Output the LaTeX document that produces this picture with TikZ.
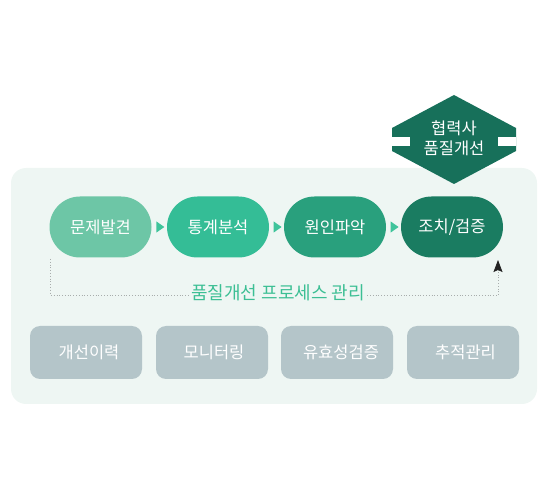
\documentclass[tikz,border=0pt]{standalone}
\usepackage{fontspec}
\setmainfont{Noto Sans CJK KR}
\usetikzlibrary{shapes.misc,shapes.geometric,arrows.meta}
\definecolor{panelbg}{HTML}{EEF6F3}
\definecolor{pillA}{HTML}{6DC6A6}
\definecolor{pillB}{HTML}{34BD96}
\definecolor{pillC}{HTML}{29A07D}
\definecolor{pillD}{HTML}{1A7C61}
\definecolor{diam}{HTML}{17705A}
\definecolor{tricol}{HTML}{3FC49B}
\definecolor{boxcol}{HTML}{B4C5C9}
\definecolor{titlecol}{HTML}{3CBF94}
\definecolor{dotcol}{HTML}{A8ADAC}
\definecolor{arrcol}{HTML}{222222}
\tikzset{
  pill/.style={rounded rectangle, minimum width=102pt, minimum height=61pt, inner sep=0pt,
    text=white, font=\fontsize{16.5}{19}\selectfont},
  infobox/.style={rectangle, rounded corners=10pt, fill=boxcol, minimum width=112pt,
    minimum height=53pt, inner sep=0pt, text=white, font=\fontsize{16.5}{19}\selectfont},
  steptri/.style={isosceles triangle, isosceles triangle apex angle=70, fill=tricol,
    minimum height=8pt, minimum width=11pt, inner sep=0pt},
  loopline/.style={dotcol, line width=0.8pt, dotted},
}
\begin{document}
\begin{tikzpicture}[x=1pt,y=-1pt]
\useasboundingbox (0,0) rectangle (550,500);
% panel
\fill[panelbg, rounded corners=15pt] (11,168) rectangle (537,404);
% diamond badge
\fill[diam] (454,95) -- (516,128) -- (516,151) -- (454,184) -- (392,151) -- (392,128) -- cycle;
\fill[white] (392,137) rectangle (410,146);
\fill[white] (498,137) rectangle (516,146);
\node[align=center, text=white, font=\fontsize{16.5}{20.5}\selectfont, inner sep=0pt] (partner) at (454,138.5) {협력사\\품질개선};
% pills
\node[pill, fill=pillA] (p1) at (100.5,227) {문제발견};
\node[pill, fill=pillB] (p2) at (218,227) {통계분석};
\node[pill, fill=pillC] (p3) at (335,227) {원인파악};
\node[pill, fill=pillD] (p4) at (452,227) {조치/검증};
\path (p1.east) -- node[steptri] (t1) {} (p2.west);
\path (p2.east) -- node[steptri] (t2) {} (p3.west);
\path (p3.east) -- node[steptri] (t3) {} (p4.west);
% loop
\coordinate (ls) at (50.5,259);
\coordinate (le) at (498,260);
\draw[loopline] (ls) -- (50.5,295) -- (498,295);
\draw[loopline, -{Stealth[length=12pt,width=9pt,inset=2pt,color=arrcol,fill=arrcol]}] (498,295) -- (le);
\node[fill=panelbg, text=titlecol, font=\fontsize{18}{21}\selectfont, inner xsep=2pt, inner ysep=0pt] (title) at (278,293) {품질개선 프로세스 관리};
% bottom boxes
\node[infobox] (b1) at (86,352.5) {\hspace*{6pt}개선이력};
\node[infobox] (b2) at (212,352.5) {\hspace*{4pt}모니터링};
\node[infobox] (b3) at (337,352.5) {\hspace*{8pt}유효성검증};
\node[infobox] (b4) at (463,352.5) {\hspace*{5pt}추적관리};
\end{tikzpicture}
\end{document}
